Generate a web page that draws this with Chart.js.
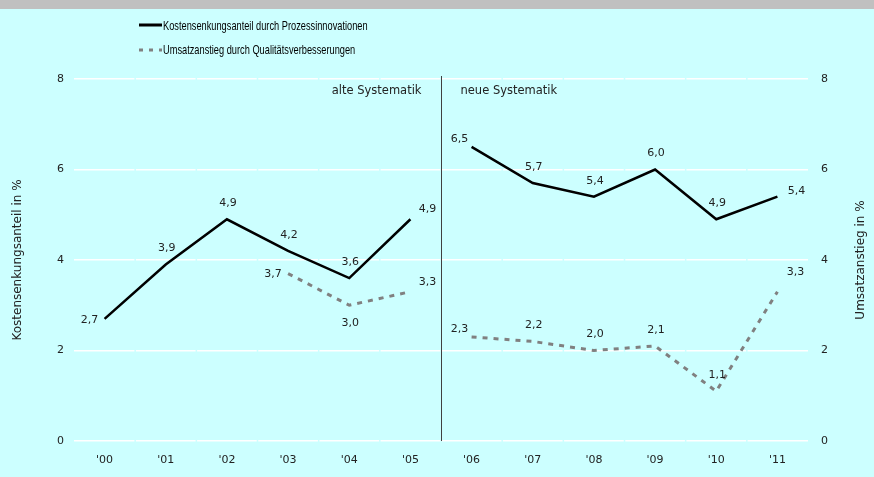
<!DOCTYPE html>
<html>
<head>
<meta charset="utf-8">
<script src="https://cdn.jsdelivr.net/npm/chart.js@4.4.1/dist/chart.umd.min.js"></script>
<style>
html, body { margin: 0; padding: 0; background: #CCFFFF; }
#chart { display: block; }
</style>
</head>
<body>
<canvas id="chart" width="874" height="477"></canvas>
<script>
var years = ["'00", "'01", "'02", "'03", "'04", "'05", "'06", "'07", "'08", "'09", "'10", "'11"];
var kosten = [2.7, 3.9, 4.9, 4.2, 3.6, 4.9, 6.5, 5.7, 5.4, 6.0, 4.9, 5.4];
var umsatz = [null, null, null, 3.7, 3.0, 3.3, 2.3, 2.2, 2.0, 2.1, 1.1, 3.3];
var yTicks = [0, 2, 4, 6, 8];
var breakAfter = 5; // Systematikwechsel zwischen '05 und '06

// where each value label sits relative to its point
var kostenLabelPos = ['l', 't', 't', 't', 't', 'tr', 'tl', 't', 't', 't', 't', 'r'];
var umsatzLabelPos = [null, null, null, 'l', 'b', 'tr', 'tl', 't', 't', 't', 't', 'rt'];
var labelOffsets = {
    l: [-15, 1], t: [1, -16], tr: [17, -10], tl: [-12, -8], b: [1, 18], r: [19, -6], rt: [18, -20]
};

var FONT = '"DejaVu Sans", Verdana, sans-serif';
var LEGEND_FONT = '"Liberation Sans", Arial, sans-serif';

function fmt(v) {
    return v.toFixed(1).replace('.', ',');
}

function gapSegment(color) {
    return function (c) {
        return c.p0DataIndex === breakAfter ? 'rgba(0,0,0,0)' : color;
    };
}

var decor = {
    id: 'decor',
    beforeDraw: function (chart) {
        var ctx = chart.ctx;
        ctx.save();
        ctx.fillStyle = '#CCFFFF';
        ctx.fillRect(0, 0, chart.width, chart.height);
        ctx.fillStyle = '#C0C0C0';
        ctx.fillRect(0, 0, chart.width, 9);
        ctx.restore();
    },
    beforeDatasetsDraw: function (chart) {
        var ctx = chart.ctx, area = chart.chartArea, x = chart.scales.x;
        ctx.save();
        // small breaks in the white grid lines at the category borders
        ctx.strokeStyle = '#CCFFFF';
        ctx.lineWidth = 1.5;
        for (var i = 1; i < years.length; i++) {
            var bx = (x.getPixelForValue(i - 1) + x.getPixelForValue(i)) / 2;
            ctx.beginPath();
            ctx.moveTo(bx, area.top - 2);
            ctx.lineTo(bx, area.bottom + 2);
            ctx.stroke();
        }
        // separator old/new methodology
        var sx = Math.round((x.getPixelForValue(breakAfter) + x.getPixelForValue(breakAfter + 1)) / 2) + 0.5;
        ctx.strokeStyle = '#404040';
        ctx.lineWidth = 1;
        ctx.beginPath();
        ctx.moveTo(sx, area.top - 3);
        ctx.lineTo(sx, area.bottom);
        ctx.stroke();
        ctx.fillStyle = '#222';
        ctx.font = '11.5px ' + FONT;
        ctx.textBaseline = 'middle';
        ctx.textAlign = 'right';
        ctx.fillText('alte Systematik', sx - 20, area.top + 12);
        ctx.textAlign = 'left';
        ctx.fillText('neue Systematik', sx + 19, area.top + 12);
        ctx.restore();
    },
    afterDatasetsDraw: function (chart) {
        var ctx = chart.ctx, area = chart.chartArea;
        ctx.save();
        // value labels
        ctx.font = '11px ' + FONT;
        ctx.fillStyle = '#222';
        ctx.textAlign = 'center';
        ctx.textBaseline = 'middle';
        [[0, kosten, kostenLabelPos], [1, umsatz, umsatzLabelPos]].forEach(function (s) {
            var meta = chart.getDatasetMeta(s[0]);
            s[1].forEach(function (v, i) {
                if (v === null) return;
                var p = meta.data[i], off = labelOffsets[s[2][i]];
                ctx.fillText(fmt(v), p.x + off[0], p.y + off[1]);
            });
        });
        // axis titles
        ctx.font = '12px ' + FONT;
        var cy = (area.top + area.bottom) / 2;
        ctx.save();
        ctx.translate(18, cy);
        ctx.rotate(-Math.PI / 2);
        ctx.fillText('Kostensenkungsanteil in %', 0, 0);
        ctx.restore();
        ctx.save();
        ctx.translate(861, cy);
        ctx.rotate(-Math.PI / 2);
        ctx.fillText('Umsatzanstieg in %', 0, 0);
        ctx.restore();
        // legend
        ctx.strokeStyle = '#000';
        ctx.lineWidth = 3;
        ctx.beginPath();
        ctx.moveTo(139, 25);
        ctx.lineTo(162, 25);
        ctx.stroke();
        ctx.strokeStyle = '#808080';
        ctx.setLineDash([4, 6]);
        ctx.beginPath();
        ctx.moveTo(139, 50);
        ctx.lineTo(162, 50);
        ctx.stroke();
        ctx.setLineDash([]);
        ctx.fillStyle = '#000';
        ctx.font = '13.5px ' + LEGEND_FONT;
        ctx.textAlign = 'left';
        // condensed look of the original legend font
        ctx.save();
        ctx.translate(163, 0);
        ctx.scale(0.685, 1);
        ctx.fillText(chart.data.datasets[0].label, 0, 26);
        ctx.fillText(chart.data.datasets[1].label, 0, 50);
        ctx.restore();
        ctx.restore();
    }
};

var ctx = document.getElementById('chart').getContext('2d');
var chart = new Chart(ctx, {
    type: 'line',
    data: {
        labels: years,
        datasets: [{
            label: 'Kostensenkungsanteil durch Prozessinnovationen',
            data: kosten,
            yAxisID: 'y',
            borderColor: '#000000',
            borderWidth: 2.5,
            pointRadius: 0,
            tension: 0,
            segment: { borderColor: gapSegment('#000000') }
        }, {
            label: 'Umsatzanstieg durch Qualitätsverbesserungen',
            data: umsatz,
            yAxisID: 'y2',
            borderColor: '#808080',
            borderWidth: 3,
            borderDash: [5, 6],
            pointRadius: 0,
            tension: 0,
            spanGaps: false,
            segment: { borderColor: gapSegment('#808080') }
        }]
    },
    options: {
        responsive: false,
        animation: false,
        layout: { padding: { top: 79 } },
        scales: {
            x: {
                offset: true,
                grid: { display: false, drawTicks: false },
                border: { display: false },
                ticks: { color: '#222', font: { family: FONT, size: 11 }, padding: 13, maxRotation: 0 },
                afterFit: function (s) { s.height = 36; }
            },
            y: {
                position: 'left',
                min: 0,
                max: 8,
                afterBuildTicks: function (s) { s.ticks = yTicks.map(function (v) { return { value: v }; }); },
                grid: { color: '#FFFFFF', lineWidth: 1.5, drawTicks: false },
                border: { display: false },
                ticks: { color: '#222', font: { family: FONT, size: 11 }, padding: 10 },
                afterFit: function (s) { s.width = 74; }
            },
            y2: {
                position: 'right',
                min: 0,
                max: 8,
                afterBuildTicks: function (s) { s.ticks = yTicks.map(function (v) { return { value: v }; }); },
                grid: { display: false, drawTicks: false },
                border: { display: false },
                ticks: { color: '#222', font: { family: FONT, size: 11 }, padding: 13 },
                afterFit: function (s) { s.width = 66; }
            }
        },
        plugins: {
            legend: { display: false },
            tooltip: { enabled: false }
        }
    },
    plugins: [decor]
});
</script>
</body>
</html>
